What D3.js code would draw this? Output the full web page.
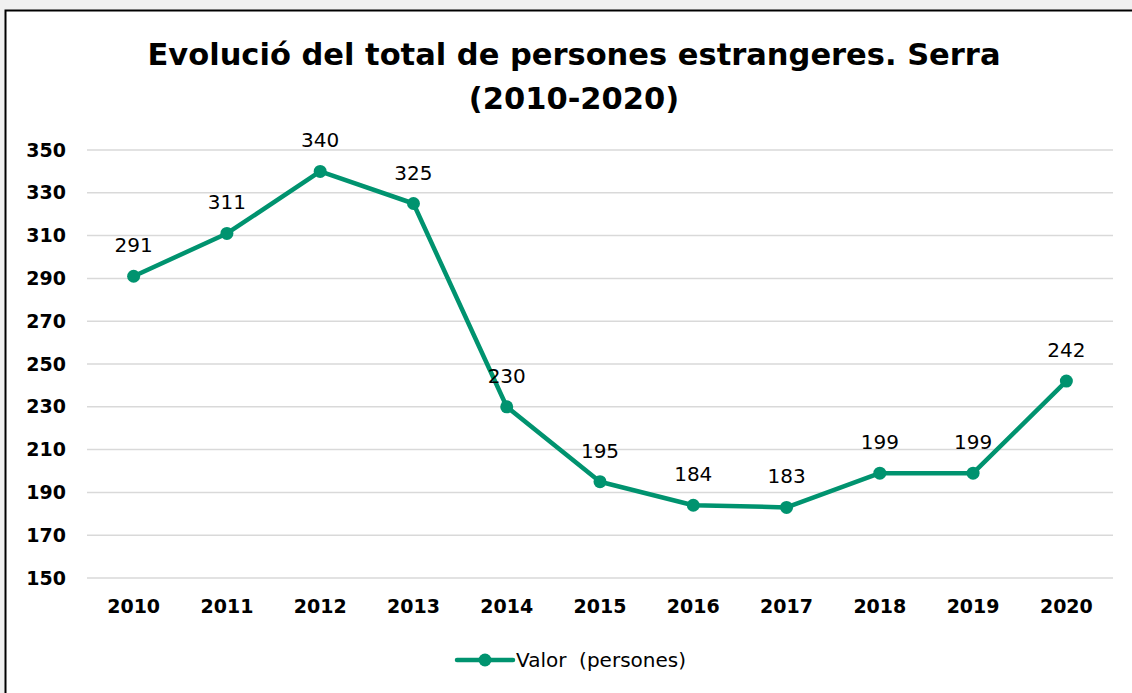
<!DOCTYPE html>
<html>
<head>
<meta charset="utf-8">
<script src="https://cdn.jsdelivr.net/npm/d3@7"></script>
<style>
  body { margin: 0; background: #f0f0f0; }
  text { font-family: "DejaVu Sans", sans-serif; }
</style>
</head>
<body>
<div id="chart"></div>
<script>
// chart data
var years = ["2010", "2011", "2012", "2013", "2014", "2015", "2016", "2017", "2018", "2019", "2020"];
var values = [291, 311, 340, 325, 230, 195, 184, 183, 199, 199, 242];
var yTicks = [150, 170, 190, 210, 230, 250, 270, 290, 310, 330, 350];
var seriesName = "Valor  (persones)";

var svgWidth = 1132;
var svgHeight = 693;

var margin = { top: 150, right: 19, bottom: 115, left: 87 };
var width = svgWidth - margin.left - margin.right;
var height = svgHeight - margin.top - margin.bottom;

var green = "#00936f";

var svg = d3.select("#chart")
  .append("svg")
  .attr("width", svgWidth)
  .attr("height", svgHeight);

// white chart area with black frame
svg.append("rect")
  .attr("x", 5.5)
  .attr("y", 10.5)
  .attr("width", svgWidth + 10)
  .attr("height", svgHeight + 10)
  .attr("fill", "#fff")
  .attr("stroke", "#000")
  .attr("stroke-width", 2);

// title
var title = svg.append("text")
  .attr("text-anchor", "middle")
  .style("font-size", "30.5px")
  .style("font-weight", "bold")
  .attr("fill", "#000");
title.append("tspan").attr("x", 574).attr("y", 65).text("Evolució del total de persones estrangeres. Serra");
title.append("tspan").attr("x", 574).attr("y", 109).text("(2010-2020)");

var chartGroup = svg.append("g")
  .attr("transform", `translate(${margin.left}, ${margin.top})`);

var xScale = d3.scaleBand()
  .domain(years)
  .range([0, width]);

var yScale = d3.scaleLinear()
  .domain([150, 350])
  .range([height, 0]);

// gridlines
chartGroup.append("g")
  .selectAll("line")
  .data(yTicks)
  .enter()
  .append("line")
  .attr("x1", 0)
  .attr("x2", width)
  .attr("y1", d => yScale(d))
  .attr("y2", d => yScale(d))
  .attr("stroke", "#d9d9d9")
  .attr("stroke-width", 1.5);

// y axis
var leftAxis = d3.axisLeft(yScale).tickValues(yTicks).tickSize(0).tickPadding(21);
var yAxis = chartGroup.append("g").call(leftAxis);
yAxis.select(".domain").remove();
yAxis.selectAll("text")
  .style("font-size", "19px")
  .style("font-weight", "bold")
  .attr("fill", "#000");

// x axis
var bottomAxis = d3.axisBottom(xScale).tickSize(0).tickPadding(22);
var xAxis = chartGroup.append("g")
  .attr("transform", `translate(0, ${height})`)
  .call(bottomAxis);
xAxis.select(".domain").remove();
xAxis.selectAll("text")
  .style("font-size", "19px")
  .style("font-weight", "bold")
  .attr("fill", "#000");

var cx = d => xScale(d) + xScale.bandwidth() / 2;

// line
var line = d3.line()
  .x((d, i) => cx(years[i]))
  .y(d => yScale(d));

chartGroup.append("path")
  .datum(values)
  .attr("d", line)
  .attr("fill", "none")
  .attr("stroke", green)
  .attr("stroke-width", 4.5)
  .attr("stroke-linejoin", "round");

// markers
chartGroup.selectAll("circle")
  .data(values)
  .enter()
  .append("circle")
  .attr("cx", (d, i) => cx(years[i]))
  .attr("cy", d => yScale(d))
  .attr("r", 6.5)
  .attr("fill", green);

// data labels
chartGroup.selectAll(".dlabel")
  .data(values)
  .enter()
  .append("text")
  .attr("class", "dlabel")
  .attr("x", (d, i) => cx(years[i]))
  .attr("y", d => yScale(d) - 24)
  .attr("text-anchor", "middle")
  .style("font-size", "20px")
  .attr("fill", "#000")
  .text(d => d);

// legend
var legend = svg.append("g").attr("transform", "translate(457, 660)");
legend.append("line")
  .attr("x1", 0).attr("x2", 56)
  .attr("y1", 0).attr("y2", 0)
  .attr("stroke", green)
  .attr("stroke-width", 4.5)
  .attr("stroke-linecap", "round");
legend.append("circle")
  .attr("cx", 28).attr("cy", 0).attr("r", 6.5)
  .attr("fill", green);
legend.append("text")
  .attr("x", 59).attr("y", 7)
  .style("font-size", "20px")
  .style("white-space", "pre")
  .attr("xml:space", "preserve")
  .attr("fill", "#000")
  .text(seriesName);
</script>
</body>
</html>
